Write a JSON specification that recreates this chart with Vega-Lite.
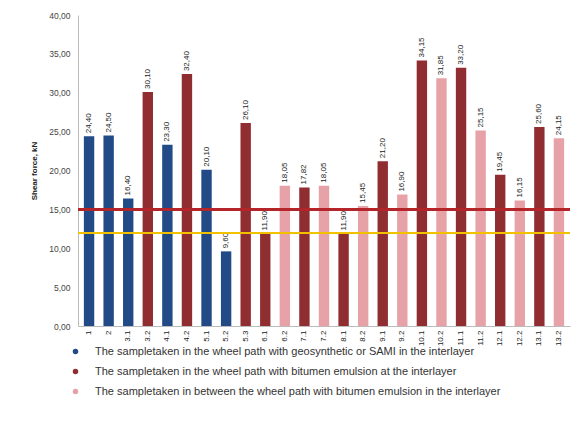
{
  "$schema": "https://vega.github.io/schema/vega-lite/v6.json",
  "width": 492,
  "height": 311,
  "autosize": {"type": "none"},
  "padding": {"left": 78, "top": 15, "right": 11, "bottom": 109},
  "background": "#ffffff",
  "config": {
    "locale": {"number": {"decimal": ",", "thousands": ".", "grouping": [3], "currency": ["", " €"]}},
    "view": {"stroke": null},
    "font": "Liberation Sans"
  },
  "data": {
    "values": [
      {"sample": "1", "force": 24.40, "group": "The sampletaken in the wheel path with geosynthetic or SAMI in the interlayer"},
      {"sample": "2", "force": 24.50, "group": "The sampletaken in the wheel path with geosynthetic or SAMI in the interlayer"},
      {"sample": "3.1", "force": 16.40, "group": "The sampletaken in the wheel path with geosynthetic or SAMI in the interlayer"},
      {"sample": "3.2", "force": 30.10, "group": "The sampletaken in the wheel path with bitumen emulsion at the interlayer"},
      {"sample": "4.1", "force": 23.30, "group": "The sampletaken in the wheel path with geosynthetic or SAMI in the interlayer"},
      {"sample": "4.2", "force": 32.40, "group": "The sampletaken in the wheel path with bitumen emulsion at the interlayer"},
      {"sample": "5.1", "force": 20.10, "group": "The sampletaken in the wheel path with geosynthetic or SAMI in the interlayer"},
      {"sample": "5.2", "force": 9.60, "group": "The sampletaken in the wheel path with geosynthetic or SAMI in the interlayer"},
      {"sample": "5.3", "force": 26.10, "group": "The sampletaken in the wheel path with bitumen emulsion at the interlayer"},
      {"sample": "6.1", "force": 11.90, "group": "The sampletaken in the wheel path with bitumen emulsion at the interlayer"},
      {"sample": "6.2", "force": 18.05, "group": "The sampletaken in between the wheel path with bitumen emulsion in the interlayer"},
      {"sample": "7.1", "force": 17.82, "group": "The sampletaken in the wheel path with bitumen emulsion at the interlayer"},
      {"sample": "7.2", "force": 18.05, "group": "The sampletaken in between the wheel path with bitumen emulsion in the interlayer"},
      {"sample": "8.1", "force": 11.90, "group": "The sampletaken in the wheel path with bitumen emulsion at the interlayer"},
      {"sample": "8.2", "force": 15.45, "group": "The sampletaken in between the wheel path with bitumen emulsion in the interlayer"},
      {"sample": "9.1", "force": 21.20, "group": "The sampletaken in the wheel path with bitumen emulsion at the interlayer"},
      {"sample": "9.2", "force": 16.90, "group": "The sampletaken in between the wheel path with bitumen emulsion in the interlayer"},
      {"sample": "10.1", "force": 34.15, "group": "The sampletaken in the wheel path with bitumen emulsion at the interlayer"},
      {"sample": "10.2", "force": 31.85, "group": "The sampletaken in between the wheel path with bitumen emulsion in the interlayer"},
      {"sample": "11.1", "force": 33.20, "group": "The sampletaken in the wheel path with bitumen emulsion at the interlayer"},
      {"sample": "11.2", "force": 25.15, "group": "The sampletaken in between the wheel path with bitumen emulsion in the interlayer"},
      {"sample": "12.1", "force": 19.45, "group": "The sampletaken in the wheel path with bitumen emulsion at the interlayer"},
      {"sample": "12.2", "force": 16.15, "group": "The sampletaken in between the wheel path with bitumen emulsion in the interlayer"},
      {"sample": "13.1", "force": 25.60, "group": "The sampletaken in the wheel path with bitumen emulsion at the interlayer"},
      {"sample": "13.2", "force": 24.15, "group": "The sampletaken in between the wheel path with bitumen emulsion in the interlayer"}
    ]
  },
  "encoding": {
    "x": {
      "field": "sample", "type": "nominal", "sort": null,
      "scale": {"paddingInner": 0.47, "paddingOuter": 0.3},
      "axis": {"title": null, "labelAngle": 270, "labelFontSize": 8, "labelColor": "#222", "domainColor": "#bbb", "ticks": false, "labelPadding": 4}
    },
    "y": {
      "field": "force", "type": "quantitative",
      "scale": {"domain": [0, 40]},
      "axis": {"title": "Shear force, kN", "titleFontSize": 8, "titleFontWeight": "bold", "titleColor": "#222", "titlePadding": 10,
               "values": [0, 5, 10, 15, 20, 25, 30, 35, 40], "format": ".2f", "labelFontSize": 8.5, "labelColor": "#444", "labelOverlap": false,
               "grid": false, "domainColor": "#bbb", "ticks": false, "labelPadding": 8}
    }
  },
  "layer": [
    {
      "mark": {"type": "bar"},
      "encoding": {
        "color": {
          "field": "group", "type": "nominal", "sort": null,
          "scale": {"range": ["#214a86", "#8f2d31", "#e7a2a8"]},
          "legend": {"title": null, "orient": "none", "legendX": -8, "legendY": 331, "symbolType": "circle", "symbolSize": 30,
                     "labelFontSize": 11, "labelColor": "#333", "labelLimit": 520, "rowPadding": 8, "labelOffset": 14}
        }
      }
    },
    {
      "mark": {"type": "text", "angle": 270, "align": "left", "baseline": "middle", "dx": 3, "fontSize": 8, "color": "#222"},
      "encoding": {
        "text": {"field": "force", "type": "quantitative", "format": ".2f"}
      }
    },
    {
      "mark": {"type": "rule", "color": "#f2c200", "strokeWidth": 1.5, "opacity": 0.7},
      "encoding": {"y": {"datum": 12}, "x": {"value": 0}, "x2": {"value": 492}}
    },
    {
      "mark": {"type": "rule", "color": "#b3262b", "strokeWidth": 1.5},
      "encoding": {"y": {"datum": 15}, "x": {"value": 0}, "x2": {"value": 492}}
    }
  ]
}
